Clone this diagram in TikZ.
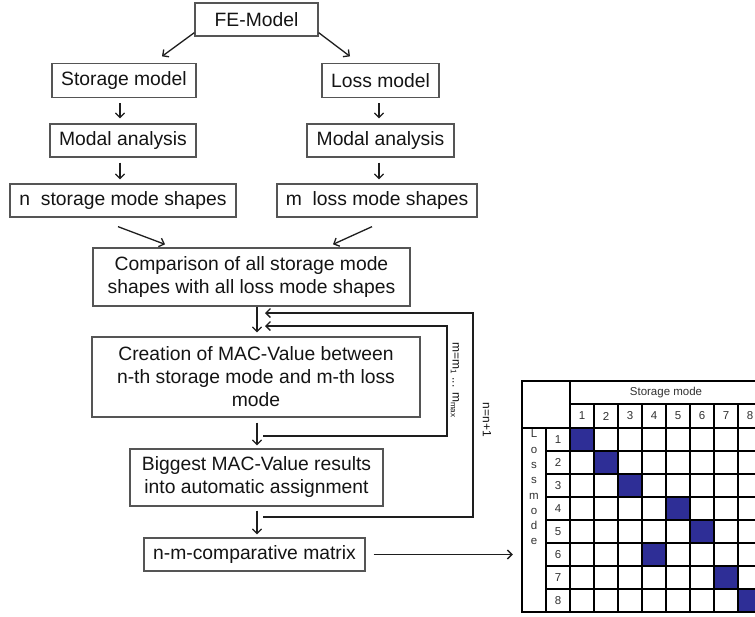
\documentclass[tikz,border=0pt]{standalone}
\usepackage{fontspec}
\setmainfont{Liberation Sans}
\usetikzlibrary{arrows.meta}
\definecolor{boxgray}{RGB}{85,85,85}
\definecolor{lineblack}{RGB}{30,30,30}
\definecolor{textblack}{RGB}{20,20,20}
\definecolor{cellblue}{RGB}{46,46,150}
\definecolor{tabgray}{RGB}{50,50,50}
\begin{document}
\begin{tikzpicture}[x=1pt,y=-1pt,
  box/.style={draw=boxgray, line width=1.3pt, inner sep=0pt, align=center,
    font=\fontsize{19.3}{23}\selectfont, text=textblack},
  arr/.style={draw=lineblack, line width=1.3pt,
    -{Straight Barb[length=4.5pt,width=9pt]}},
  looplabel/.style={rotate=-90, inner sep=0pt, text=textblack,
    font=\fontsize{12}{14}\selectfont},
  tabline/.style={draw=black, line width=1.2pt},
  tabtext/.style={inner sep=0pt, text=tabgray, font=\fontsize{11.5}{15.3}\selectfont}
]
\useasboundingbox (0,0) rectangle (755,616);
\fill[white] (0,0) rectangle (755,616);

% ---------- flow chart boxes ----------
\node[box, minimum width=123pt, minimum height=33pt] (fe)  at (256.5,19.5)  {FE-Model};
\node[box, minimum width=144pt, minimum height=34pt] (sm)  at (124,80.5)    {Storage model};
\node[box, minimum width=117pt, minimum height=34pt] (lm)  at (380.5,80.5)  {Loss model};
\node[box, minimum width=146pt, minimum height=33pt] (ma1) at (123,140.5)   {Modal analysis};
\node[box, minimum width=147pt, minimum height=33pt] (ma2) at (380.5,140.5) {Modal analysis};
\node[box, minimum width=226pt, minimum height=33pt] (ns)  at (123,200.5)   {n\ \ storage mode shapes};
\node[box, minimum width=200pt, minimum height=33pt] (ml)  at (377,200.5)   {m\ \ loss mode shapes};
\node[box, minimum width=317pt, minimum height=58pt] (cmp) at (251.5,277)
  {Comparison of all storage mode\\shapes with all loss mode shapes};
\node[box, minimum width=328pt, minimum height=80pt] (cre) at (256,377)
  {Creation of MAC-Value between\\n-th storage mode and m-th loss\\mode};
\node[box, minimum width=253pt, minimum height=57pt] (big) at (256.5,477.5)
  {Biggest MAC-Value results\\into automatic assignment};
\node[box, minimum width=221pt, minimum height=33pt] (nm)  at (254.5,554.5) {n-m-comparative matrix};

% ---------- connectors ----------
\draw[arr] ([yshift=4pt]fe.south west) -- ([xshift=38pt,yshift=6.5pt]sm.north);
\draw[arr] ([yshift=4pt]fe.south east) -- ([xshift=-30.5pt,yshift=6.5pt]lm.north);
\draw[arr, shorten <=5pt, shorten >=5pt] ([xshift=-4pt]sm.south) -- ([xshift=-4pt]sm.south |- ma1.north);
\draw[arr, shorten <=5pt, shorten >=4pt] ([xshift=-3pt]ma1.south) -- ([xshift=-3pt]ma1.south |- ns.north);
\draw[arr, shorten <=5pt, shorten >=5pt] ([xshift=-1.5pt]lm.south) -- ([xshift=-1.5pt]lm.south |- ma2.north);
\draw[arr, shorten <=5pt, shorten >=4pt] ([xshift=-1.5pt]ma2.south) -- ([xshift=-1.5pt]ma2.south |- ml.north);
\draw[arr] ([xshift=-5pt,yshift=-9pt]ns.south) -- ([xshift=-86.5pt,yshift=3pt]cmp.north);
\draw[arr] ([xshift=-5pt,yshift=-9pt]ml.south) -- ([xshift=81.5pt,yshift=3pt]cmp.north);
\draw[arr, shorten >=4pt] ([xshift=5.5pt]cmp.south) -- ([xshift=5.5pt]cmp.south |- cre.north);
\draw[arr, shorten <=5pt, shorten >=3pt] ([xshift=1pt]cre.south) -- ([xshift=1pt]cre.south |- big.north);
\draw[arr, shorten <=4pt, shorten >=3pt] ([xshift=0.5pt]big.south) -- ([xshift=0.5pt]big.south |- nm.north);

% ---------- iteration loops ----------
\coordinate (inS) at (263,436);
\coordinate (inC) at (447,326);
\coordinate (inE) at (265,326);
\coordinate (outS) at (263,517);
\coordinate (outC) at (473,313);
\coordinate (outE) at (265,313);
\draw[arr] (inS) -| (inC) -- (inE);
\draw[arr] (outS) -| (outC) -- (outE);
\node[looplabel] (mloop) at (455,380) {m=m\textsubscript{1} ... m\textsubscript{max}};
\node[looplabel] (nloop) at (487,420) {n=n+1};

% ---------- comparative matrix ----------
\node[inner sep=0pt, minimum width=240pt, minimum height=231pt] (mat) at (642,496.5) {};
\foreach \r/\c in {1/1,2/2,3/3,4/5,5/6,6/4,7/7,8/8}
  \fill[cellblue] ({570+24*(\c-1)},{428+23*(\r-1)}) rectangle ++(24,23);
\draw[tabline] (522,381) rectangle (762,612);
\draw[tabline] (570,381) -- (570,612);
\draw[tabline] (546,428) -- (546,612);
\draw[tabline] (570,404) -- (762,404);
\draw[tabline] (522,428) -- (762,428);
\foreach \y in {451,474,497,520,543,566,589}
  \draw[tabline] (546,\y) -- (762,\y);
\foreach \x in {594,618,642,666,690,714,738}
  \draw[tabline] (\x,404) -- (\x,612);
\node[tabtext] (shead) at (666,392.5) {Storage mode};
\foreach \c in {1,...,8}
  \node[tabtext] (col\c) at ({582+24*(\c-1)},416) {\c};
\foreach \r in {1,...,8}
  \node[tabtext] (row\r) at (558,{439.5+23*(\r-1)}) {\r};
\node[tabtext, align=center] (lhead) at (534,487.5) {L\\o\\s\\s\\m\\o\\d\\e};

\draw[arr, shorten <=8pt, shorten >=9pt] (nm.east) -- (nm.east -| mat.west);
\end{tikzpicture}
\end{document}
